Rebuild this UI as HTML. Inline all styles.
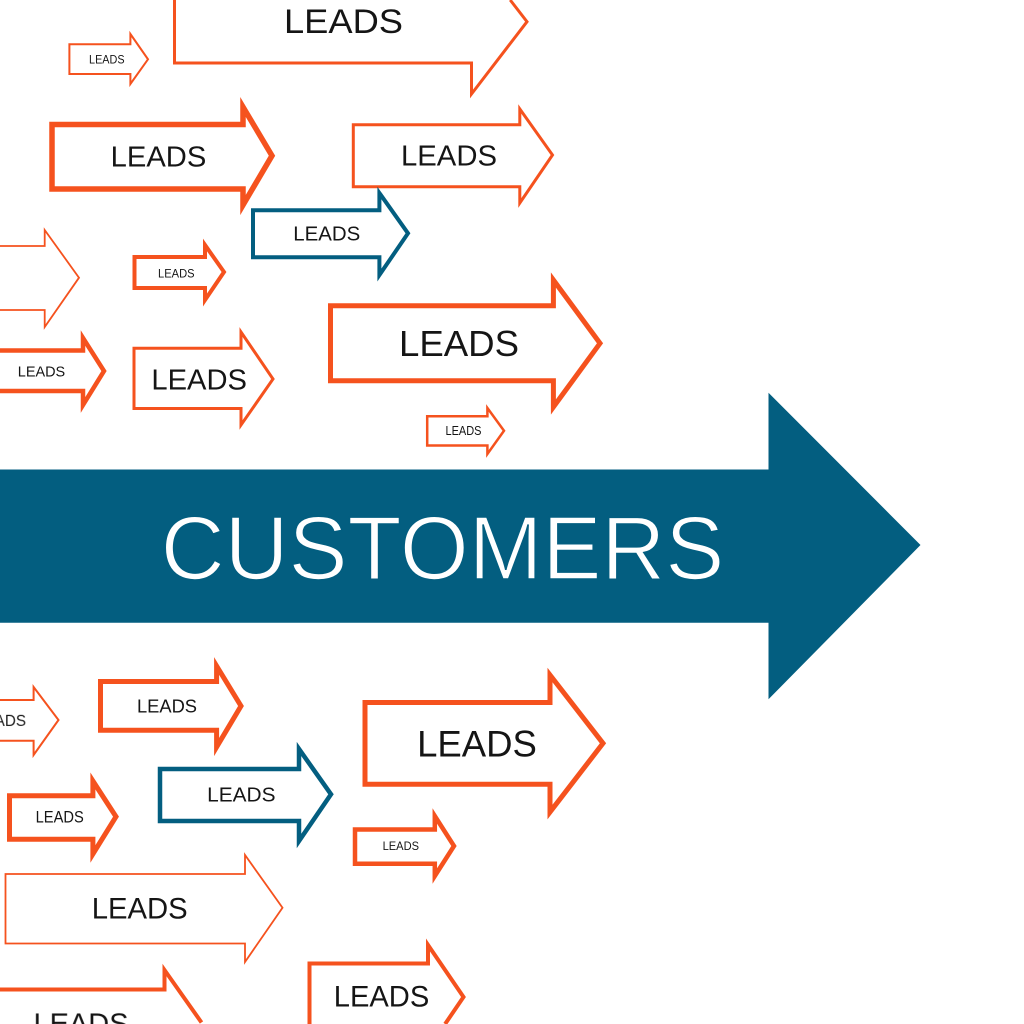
<!DOCTYPE html>
<html>
<head>
<meta charset="utf-8">
<style>
html,body{margin:0;padding:0;background:#fff;width:1024px;height:1024px;overflow:hidden;}
svg{display:block;overflow:hidden;}
text{font-family:"Liberation Sans",sans-serif;fill:#151515;}
</style>
</head>
<body>
<svg width="1024" height="1024" viewBox="0 0 1024 1024" xmlns="http://www.w3.org/2000/svg">
<defs>
  <pattern id="pB1" patternUnits="userSpaceOnUse" x="-100" y="0" width="1200" height="1200">
    <text x="101" y="726" font-size="16.5" text-anchor="middle" textLength="50" lengthAdjust="spacingAndGlyphs">LEADS</text>
  </pattern>
  <pattern id="pB8" patternUnits="userSpaceOnUse" x="0" y="0" width="1024" height="1100">
    <text x="81" y="1033" font-size="29" text-anchor="middle" textLength="95" lengthAdjust="spacingAndGlyphs">LEADS</text>
  </pattern>
</defs>
<rect width="1024" height="1024" fill="#fff"/>
<g fill="#fff" stroke="#f5521e" stroke-linejoin="miter" stroke-miterlimit="10">
  <!-- A1 big top (clipped at top) -->
  <polyline fill="none" stroke-width="3" points="174.5,0 174.5,63 471.5,63 471.5,94 527,21.7 510.2,0"/>
  <polygon stroke-width="2" points="69.4,44.3 130.4,44.3 130.4,34 148,59.3 130.4,84 130.4,74 69.4,74"/>
  <polygon stroke-width="5.5" points="52,124.5 243,124.5 243,107 272,155.7 243,205 243,189 52,189"/>
  <polygon stroke-width="3" points="353.3,124.8 519.8,124.8 519.8,109 552.5,155 519.8,203 519.8,186.8 353.3,186.8"/>
  <!-- A6 thin partial -->
  <polyline fill="none" stroke-width="1.8" points="0,246 44.7,246 44.7,230 79,277.7 44.7,327 44.7,310 0,310"/>
  <polygon stroke-width="4" points="134.5,257 205,257 205,245 224,272 205,300 205,288 134.5,288"/>
  <!-- A8 partial -->
  <polyline fill="none" stroke-width="4.5" points="0,350.5 83,350.5 83,338 104,371 83,405 83,391 0,391"/>
  <polygon stroke-width="3" points="134,348.2 241,348.2 241,332 273,379 241,425 241,408.5 134,408.5"/>
  <polygon stroke-width="5" points="330.5,305.8 553.4,305.8 553.4,280 600,343.3 553.4,407 553.4,380.8 330.5,380.8"/>
  <polygon stroke-width="2.5" points="427.2,416.2 487.4,416.2 487.4,408 504,430.7 487.4,454 487.4,445.5 427.2,445.5"/>
  <!-- B1 thin partial -->
  <polyline fill="none" stroke-width="2" points="0,700 33.6,700 33.6,687 58.5,720 33.6,755 33.6,740.7 0,740.7"/>
  <polygon stroke-width="5" points="100.5,681.5 216.6,681.5 216.6,666 241,706 216.6,747 216.6,730.2 100.5,730.2"/>
  <polygon stroke-width="5" points="365,702.5 550,702.5 550,675 603,743.3 550,812 550,784.2 365,784.2"/>
  <polygon stroke-width="5" points="9.5,795.8 92.9,795.8 92.9,781 116,816.7 92.9,854 92.9,839.2 9.5,839.2"/>
  <polygon stroke-width="4.5" points="355,829.5 434.8,829.5 434.8,816 454,846 434.8,876 434.8,863.8 355,863.8"/>
  <polygon stroke-width="1.8" points="5.5,874 245,874 245,855 282.5,907.7 245,962 245,943.5 5.5,943.5"/>
  <!-- B8 bottom partial -->
  <polyline fill="none" stroke-width="4" points="0,989.5 164.5,989.5 164.5,970 201.5,1022.5"/>
  <!-- B9 bottom right partial -->
  <polyline fill="none" stroke-width="4" points="309.5,1024 309.5,963.5 428,963.5 428,945 463.5,997 445.1,1024"/>
</g>
<g fill="#fff" stroke="#035e80" stroke-linejoin="miter" stroke-miterlimit="10">
  <polygon stroke-width="4" points="253,210.3 379.4,210.3 379.4,193 408,233.3 379.4,275 379.4,257.3 253,257.3"/>
  <polygon stroke-width="4.5" points="160,769 299,769 299,749 331,794.3 299,841 299,821 160,821"/>
</g>

<polygon fill="#035e80" points="0,469.5 768.5,469.5 768.5,392.7 920.5,545 768.5,699.3 768.5,622.7 0,622.7"/>
<text x="442.5" y="579" font-size="90" text-anchor="middle" textLength="563.5" lengthAdjust="spacingAndGlyphs" style="fill:#ffffff;stroke:#035e80;stroke-width:1.6">CUSTOMERS</text>

<g text-anchor="middle">
  <text x="343.5" y="33" font-size="34.5" textLength="119" lengthAdjust="spacingAndGlyphs">LEADS</text>
  <text x="106.8" y="63.3" font-size="12.4" textLength="35.5" lengthAdjust="spacingAndGlyphs">LEADS</text>
  <text x="158.5" y="166.7" font-size="29" textLength="95.6" lengthAdjust="spacingAndGlyphs">LEADS</text>
  <text x="449" y="165.7" font-size="28.5" textLength="96" lengthAdjust="spacingAndGlyphs">LEADS</text>
  <text x="326.8" y="240.7" font-size="20.6" textLength="67" lengthAdjust="spacingAndGlyphs">LEADS</text>
  <text x="176.3" y="277.3" font-size="12.4" textLength="36.5" lengthAdjust="spacingAndGlyphs">LEADS</text>
  <text x="41.5" y="376.7" font-size="14.7" textLength="47.4" lengthAdjust="spacingAndGlyphs">LEADS</text>
  <text x="199.2" y="389.3" font-size="29" textLength="95.6" lengthAdjust="spacingAndGlyphs">LEADS</text>
  <text x="459" y="356" font-size="35.7" textLength="120" lengthAdjust="spacingAndGlyphs">LEADS</text>
  <text x="463.5" y="435" font-size="12.8" textLength="36" lengthAdjust="spacingAndGlyphs">LEADS</text>
  <text x="167" y="712.3" font-size="18.3" textLength="60" lengthAdjust="spacingAndGlyphs">LEADS</text>
  <text x="241.3" y="801.7" font-size="20.6" textLength="68.4" lengthAdjust="spacingAndGlyphs">LEADS</text>
  <text x="477" y="756.7" font-size="36.6" textLength="119.8" lengthAdjust="spacingAndGlyphs">LEADS</text>
  <text x="59.7" y="822.7" font-size="16.5" textLength="48.2" lengthAdjust="spacingAndGlyphs">LEADS</text>
  <text x="400.8" y="850" font-size="12.4" textLength="36.4" lengthAdjust="spacingAndGlyphs">LEADS</text>
  <text x="139.7" y="918.3" font-size="29.6" textLength="96" lengthAdjust="spacingAndGlyphs">LEADS</text>
  <text x="381.5" y="1006.5" font-size="29.2" textLength="95.5" lengthAdjust="spacingAndGlyphs">LEADS</text>
</g>
<!-- partially visible labels -->
<rect x="0" y="705" width="32" height="26" fill="url(#pB1)"/>
<rect x="0" y="1004" width="200" height="20" fill="url(#pB8)"/>
</svg>
</body>
</html>
